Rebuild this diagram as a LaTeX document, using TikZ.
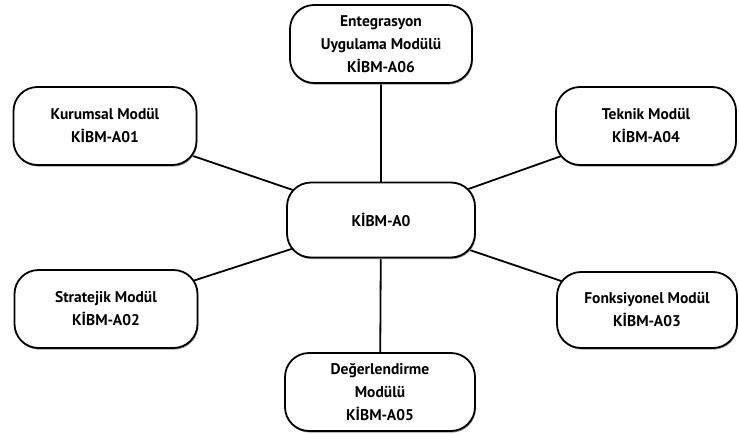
\documentclass[tikz,border=0pt]{standalone}
\usepackage{fontspec}
\setmainfont{PT Sans}
\usetikzlibrary{shadows,backgrounds}
\begin{document}
\begin{tikzpicture}[x=1pt,y=-1pt,
  modbox/.style={draw=black, line width=1.8pt, fill=white, rounded corners=24pt,
    align=center, inner sep=2pt, font=\bfseries\fontsize{15.5}{23}\selectfont,
    drop shadow={shadow xshift=0.8pt, shadow yshift=-1.6pt, fill=black!40, opacity=1}},
  link/.style={draw=black, line width=1.8pt}]
\useasboundingbox (0,0) rectangle (739,434);

\node[modbox, minimum width=182pt, minimum height=78pt] (a06) at (381,44)
  {Entegrasyon\\Uygulama Modülü\\KİBM-A06};
\node[modbox, minimum width=183pt, minimum height=78pt] (a01) at (105,126)
  {Kurumsal Modül\\KİBM-A01};
\node[modbox, minimum width=180pt, minimum height=78pt] (a04) at (646,126)
  {Teknik Modül\\KİBM-A04};
\node[modbox, minimum width=188pt, minimum height=75pt] (a0) at (381,220)
  {KİBM-A0};
\node[modbox, minimum width=183pt, minimum height=78pt] (a02) at (106,309)
  {Stratejik Modül\\KİBM-A02};
\node[modbox, minimum width=180pt, minimum height=76pt] (a03) at (647,310)
  {Fonksiyonel Modül\\KİBM-A03};
\node[modbox, minimum width=190pt, minimum height=78pt] (a05) at (380,392)
  {Değerlendirme\\Modülü\\KİBM-A05};

% spokes run behind the boxes, from centre to centre
\begin{scope}[on background layer]
  \draw[link] (a0.center) -- (a06.center);
  \draw[link] (a0.center) -- (a01.center);
  \draw[link] (a0.center) -- (a04.center);
  \draw[link] (a0.center) -- (a02.center);
  \draw[link] (a0.center) -- (a03.center);
  \draw[link] (a0.center) -- (a05.center);
\end{scope}
\end{tikzpicture}
\end{document}
